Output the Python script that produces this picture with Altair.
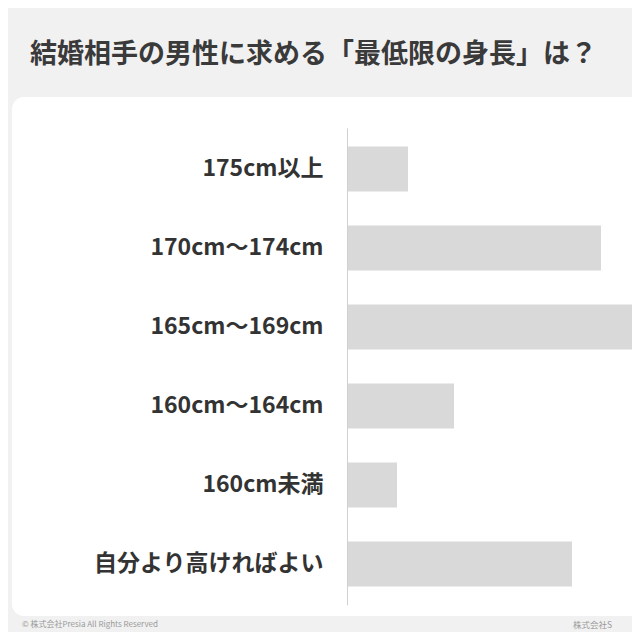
import altair as alt
import pandas as pd

categories = ["175cm以上", "170cm～174cm", "165cm～169cm", "160cm～164cm", "160cm未満", "自分より高ければよい"]
values = [6.1, 25.4, 30.3, 10.7, 5.0, 22.5]
title_text = "結婚相手の男性に求める「最低限の身長」は？"
footer_left = "© 株式会社Presia All Rights Reserved"
footer_right = "株式会社S"

FONT = "Noto Sans CJK JP"

df = pd.DataFrame({"cat": categories, "val": values})

card = alt.Chart(pd.DataFrame({"a": [0]})).mark_rect(
    color="#ffffff", cornerRadius=12
).encode(
    x=alt.value(-335), x2=alt.value(320), y=alt.value(-31), y2=alt.value(488)
)

bars = alt.Chart(df).mark_bar(color="#d9d9d9", clip=True).encode(
    y=alt.Y("cat:N", sort=categories,
            scale=alt.Scale(paddingInner=0.43, paddingOuter=0.235),
            axis=alt.Axis(title=None, ticks=False, labelPadding=24, zindex=1,
                          labelFont=FONT, labelFontSize=23, labelFontWeight="bold",
                          labelColor="#333333", domainColor="#d0d0d0", domainWidth=1,
                          labelLimit=400)),
    x=alt.X("val:Q", scale=alt.Scale(domain=[0, 28.5], nice=False), axis=None),
)

title = alt.Chart(pd.DataFrame({"t": [title_text]})).mark_text(
    font=FONT, fontSize=27, fontWeight="bold", color="#3a3a3a",
    align="left", baseline="middle"
).encode(text="t:N", x=alt.value(-317), y=alt.value(-73))

fl = alt.Chart(pd.DataFrame({"t": [footer_left]})).mark_text(
    font=FONT, fontSize=8, color="#999999", align="left", baseline="middle"
).encode(text="t:N", x=alt.value(-325), y=alt.value(497))

fr = alt.Chart(pd.DataFrame({"t": [footer_right]})).mark_text(
    font=FONT, fontSize=8.5, color="#999999", align="left", baseline="middle"
).encode(text="t:N", x=alt.value(226), y=alt.value(497))

chart = alt.layer(card, bars, title, fl, fr).properties(
    width=285, height=477,
    autosize=alt.AutoSizeParams(type="none"),
    padding={"left": 339, "top": 120, "right": 0, "bottom": 27},
    background="#f1f1f1",
).configure_view(stroke=None)

chart.save("out.html", embed_options={"renderer": "svg", "actions": False})
